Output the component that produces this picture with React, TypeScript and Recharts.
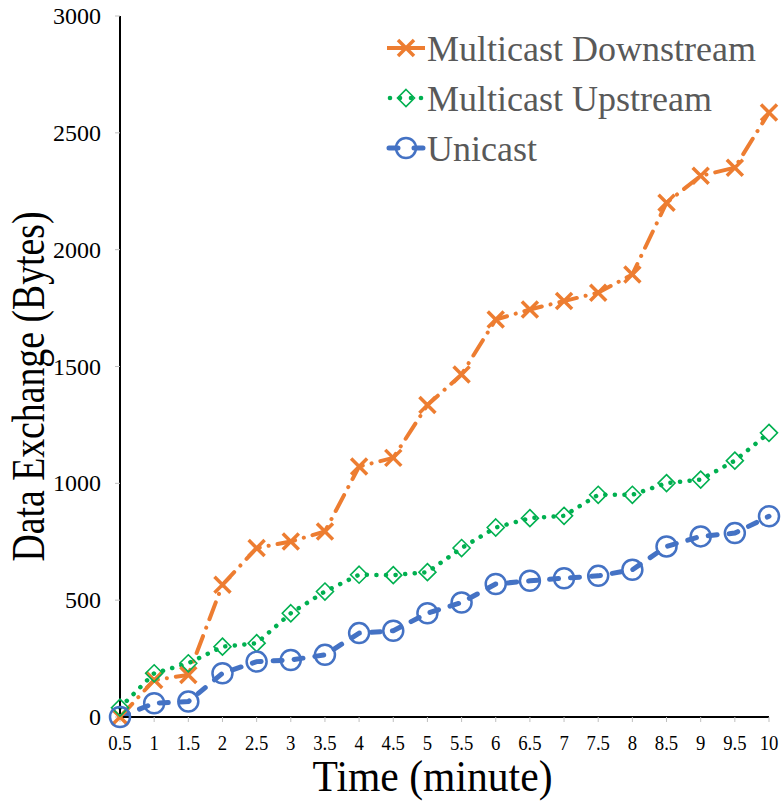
import React from 'react';
import { LineChart, Line, XAxis, YAxis, Legend, Label } from 'recharts';

const times = [0.5, 1, 1.5, 2, 2.5, 3, 3.5, 4, 4.5, 5, 5.5, 6, 6.5, 7, 7.5, 8, 8.5, 9, 9.5, 10];
const downstream = [0, 158, 180, 566, 723, 751, 794, 1072, 1109, 1335, 1466, 1701, 1744, 1780, 1816, 1894, 2201, 2316, 2351, 2587];
const upstream = [40, 187, 230, 301, 316, 444, 537, 609, 607, 620, 723, 811, 851, 861, 951, 951, 1001, 1016, 1097, 1216];
const unicast = [0, 59, 66, 187, 237, 244, 266, 359, 369, 444, 490, 569, 583, 594, 604, 630, 730, 773, 787, 859];
const yTicks = [0, 500, 1000, 1500, 2000, 2500, 3000];
const xTicks = times;

const seriesNames = ['Multicast Downstream', 'Multicast Upstream', 'Unicast'];
const ORANGE = '#ED7D31';
const GREEN = '#00B050';
const BLUE = '#4472C4';
const FONT = '"Liberation Serif", "Times New Roman", serif';

const data = times.map((t, i) => ({
  t,
  down: downstream[i],
  up: upstream[i],
  uni: unicast[i],
}));

const XMark = (props: any) => {
  const { cx, cy, key } = props;
  if (cx == null || cy == null) return <g key={key} />;
  const s = 8;
  return (
    <path
      key={key}
      d={`M${cx - s},${cy - s}L${cx + s},${cy + s}M${cx - s},${cy + s}L${cx + s},${cy - s}`}
      stroke={ORANGE}
      strokeWidth={3.5}
      fill="none"
    />
  );
};

const DiamondMark = (props: any) => {
  const { cx, cy, key } = props;
  if (cx == null || cy == null) return <g key={key} />;
  const s = 8.5;
  return (
    <path
      key={key}
      d={`M${cx},${cy - s}L${cx + s},${cy}L${cx},${cy + s}L${cx - s},${cy}Z`}
      stroke={GREEN}
      strokeWidth={1.6}
      fill="none"
    />
  );
};

const CircleMark = (props: any) => {
  const { cx, cy, key } = props;
  if (cx == null || cy == null) return <g key={key} />;
  return <circle key={key} cx={cx} cy={cy} r={10} stroke={BLUE} strokeWidth={2.5} fill="none" />;
};

const XTick = (props: any) => {
  const { x, y, payload } = props;
  return (
    <g transform={`translate(${x},${y})`}>
      <text
        x={0}
        y={0}
        dy={28}
        textAnchor="middle"
        fontSize={22}
        fontFamily={FONT}
        style={{ fontFamily: FONT }}
        fill="#000"
        transform="scale(0.85,1)"
      >
        {payload.value}
      </text>
    </g>
  );
};

const YTick = (props: any) => {
  const { x, y, payload } = props;
  return (
    <text
      x={x}
      y={y}
      dy={8}
      textAnchor="end"
      fontSize={24}
      fontFamily={FONT}
      style={{ fontFamily: FONT }}
      fill="#000"
    >
      {payload.value}
    </text>
  );
};

const YTitle = (props: any) => {
  const { viewBox } = props;
  const cx = viewBox.x + 44;
  const cy = viewBox.y + viewBox.height / 2 + 20;
  return (
    <text
      x={cx}
      y={cy}
      textAnchor="middle"
      fontSize={46}
      fontFamily={FONT}
      style={{ fontFamily: FONT }}
      fill="#000"
      textLength={350}
      lengthAdjust="spacingAndGlyphs"
      transform={`rotate(-90, ${cx}, ${cy})`}
    >
      Data Exchange (Bytes)
    </text>
  );
};

const XTitle = (props: any) => {
  const { viewBox } = props;
  const cx = viewBox.x + viewBox.width / 2 - 12;
  const by = viewBox.y + 74;
  return (
    <text
      x={cx}
      y={by}
      textAnchor="middle"
      fontSize={44}
      fontFamily={FONT}
      style={{ fontFamily: FONT }}
      fill="#000"
      textLength={240}
      lengthAdjust="spacingAndGlyphs"
    >
      Time (minute)
    </text>
  );
};

const LegendContent = () => {
  const rows = [
    { name: seriesNames[0], color: ORANGE, kind: 'x' },
    { name: seriesNames[1], color: GREEN, kind: 'd' },
    { name: seriesNames[2], color: BLUE, kind: 'c' },
  ];
  return (
    <svg width={784} height={180} style={{ display: 'block' }}>
      {rows.map((r, i) => {
        const cy = 48 + i * 50;
        const mx = 406;
        return (
          <g key={r.name}>
            {r.kind === 'x' && (
              <g>
                <line x1={387} y1={cy} x2={425} y2={cy} stroke={ORANGE} strokeWidth={4} />
                <XMark cx={mx} cy={cy} />
              </g>
            )}
            {r.kind === 'd' && (
              <g>
                <circle cx={390} cy={cy} r={2.3} fill={GREEN} />
                <circle cx={400} cy={cy} r={2.3} fill={GREEN} />
                <circle cx={411} cy={cy} r={2.3} fill={GREEN} />
                <circle cx={421} cy={cy} r={2.3} fill={GREEN} />
                <DiamondMark cx={mx} cy={cy} />
              </g>
            )}
            {r.kind === 'c' && (
              <g>
                <line x1={389} y1={cy} x2={423} y2={cy} stroke={BLUE} strokeWidth={5} strokeLinecap="round" strokeDasharray="9 16" />
                <CircleMark cx={mx} cy={cy} />
              </g>
            )}
            <text
              x={427}
              y={cy + 13}
              fontSize={36}
              fontFamily={FONT}
              style={{ fontFamily: FONT }}
              fill="#595959"
            >
              {r.name}
            </text>
          </g>
        );
      })}
    </svg>
  );
};

export default function App() {
  return (
    <div
      style={{
        position: 'absolute',
        left: 0,
        top: 0,
        width: 784,
        height: 801,
        background: '#fff',
        fontFamily: FONT,
      }}
    >
      <LineChart
        width={784}
        height={801}
        data={data}
        margin={{ top: 16, right: 15, left: 0, bottom: 0 }}
      >
        <XAxis
          dataKey="t"
          type="number"
          domain={[0.5, 10]}
          ticks={xTicks}
          interval={0}
          height={84}
          tickSize={5}
          tickMargin={0}
          tickLine={{ stroke: '#bfbfbf' }}
          axisLine={{ stroke: '#000', strokeWidth: 2 }}
          tick={<XTick />}
          allowDecimals
        >
          <Label content={<XTitle />} />
        </XAxis>
        <XAxis
          xAxisId="top"
          orientation="top"
          type="number"
          domain={[0.5, 10]}
          height={0}
          tick={false}
          tickLine={false}
          axisLine={{ stroke: '#000', strokeWidth: 2 }}
        />
        <YAxis
          type="number"
          domain={[0, 3000]}
          ticks={yTicks}
          interval={0}
          width={120}
          tickSize={5}
          tickMargin={14}
          tickLine={{ stroke: '#bfbfbf' }}
          axisLine={{ stroke: '#000', strokeWidth: 2 }}
          tick={<YTick />}
        >
          <Label content={<YTitle />} />
        </YAxis>
        <YAxis
          yAxisId="right"
          orientation="right"
          type="number"
          domain={[0, 3000]}
          width={0}
          tick={false}
          tickLine={false}
          axisLine={{ stroke: '#000', strokeWidth: 2 }}
        />
        <Legend
          layout="vertical"
          align="center"
          verticalAlign="middle"
          content={<LegendContent />}
          wrapperStyle={{ position: 'absolute', left: 0, top: 0, width: 784, height: 180, pointerEvents: 'none' }}
        />
        <Line
          dataKey="down"
          name={seriesNames[0]}
          stroke={ORANGE}
          strokeWidth={4}
          strokeDasharray="18 9 0.1 9"
          strokeLinecap="round"
          dot={(p: any) => <XMark {...p} />}
          activeDot={false}
          isAnimationActive={false}
          type="linear"
        />
        <Line
          dataKey="up"
          name={seriesNames[1]}
          stroke={GREEN}
          strokeWidth={4.5}
          strokeDasharray="0.1 9.5"
          strokeLinecap="round"
          dot={(p: any) => <DiamondMark {...p} />}
          activeDot={false}
          isAnimationActive={false}
          type="linear"
        />
        <Line
          dataKey="uni"
          name={seriesNames[2]}
          stroke={BLUE}
          strokeWidth={5}
          strokeDasharray="9 12"
          strokeLinecap="round"
          dot={(p: any) => <CircleMark {...p} />}
          activeDot={false}
          isAnimationActive={false}
          type="linear"
        />
      </LineChart>
    </div>
  );
}
